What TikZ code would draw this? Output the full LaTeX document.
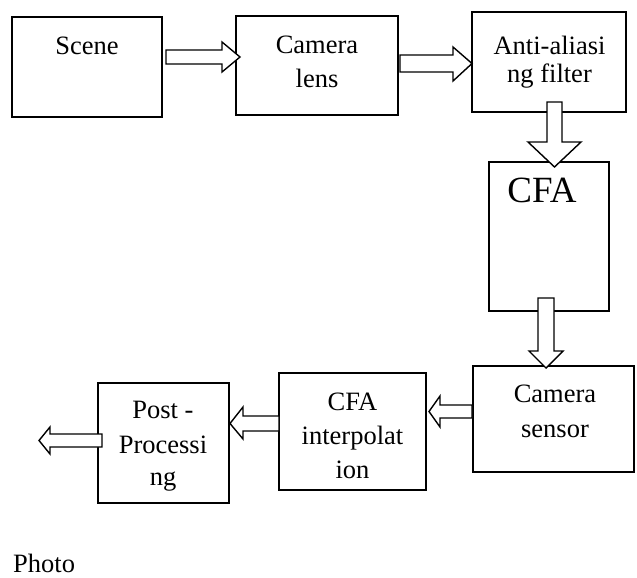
\documentclass[tikz,border=0pt]{standalone}
\usepackage{fontspec}
\setmainfont{Liberation Serif}
\begin{document}
\begin{tikzpicture}[x=1pt,y=-1pt,
  box/.style={draw, line width=1.8pt, inner sep=0pt},
  blk/.style={draw, line width=1.4pt, fill=white, line join=miter},
  lbl/.style={anchor=base, inner sep=0pt, font=\fontsize{26.5}{30}\selectfont},
  big/.style={anchor=base, inner sep=0pt, font=\fontsize{37}{42}\selectfont}]
\useasboundingbox (0,0) rectangle (637,578);
% boxes
\node[box, minimum width=150pt, minimum height=100pt] (scene) at (87,67) {};
\node[box, minimum width=162pt, minimum height=99pt] (lens) at (317,65.5) {};
\node[box, minimum width=154pt, minimum height=100pt] (aa) at (549,62) {};
\node[box, minimum width=120pt, minimum height=149pt] (cfa) at (549,236.5) {};
\node[box, minimum width=161pt, minimum height=106pt] (sensor) at (553.5,419) {};
\node[box, minimum width=147pt, minimum height=117pt] (interp) at (352.5,431.5) {};
\node[box, minimum width=131pt, minimum height=120pt] (post) at (163.5,443) {};
% texts
\node[lbl] (tscene) at (87,55) {Scene};
\node[lbl] (tlens1) at (317,53) {Camera};
\node[lbl] (tlens2) at (317,88) {lens};
\node[lbl] (taa1) at (549.5,55) {Anti-aliasi};
\node[lbl] (taa2) at (549.5,82) {ng filter};
\node[big] (tcfa) at (542,202) {CFA};
\node[lbl] (tsen1) at (555,402) {Camera};
\node[lbl] (tsen2) at (555,437) {sensor};
\node[lbl] (tint1) at (352.5,410) {CFA};
\node[lbl] (tint2) at (352.5,444) {interpolat};
\node[lbl] (tint3) at (352.5,478) {ion};
\node[lbl] (tpost1) at (163,418) {Post -};
\node[lbl] (tpost2) at (163,453) {Processi};
\node[lbl] (tpost3) at (163,485) {ng};
\node[lbl, anchor=base west] (tphoto) at (13,572) {Photo};
% block arrows
% scene -> lens
\draw[blk] (166,50) -- (222,50) -- (222,42) -- (240,57) -- (222,72) -- (222,64) -- (166,64) -- cycle;
% lens -> aa
\draw[blk] (400,55) -- (453,55) -- (453,47) -- (472,63.5) -- (453,81) -- (453,72) -- (400,72) -- cycle;
% aa -> cfa
\draw[blk] (547,102) -- (547,142) -- (528,142) -- (554.5,167) -- (581,142) -- (562,142) -- (562,102) -- cycle;
% cfa -> sensor
\draw[blk] (538,298) -- (538,351) -- (529,351) -- (546,368) -- (563,351) -- (554,351) -- (554,298) -- cycle;
% sensor -> interp
\draw[blk] (472,405) -- (440,405) -- (440,396) -- (429,411.5) -- (440,427) -- (440,418) -- (472,418) -- cycle;
% interp -> post
\draw[blk] (279,416) -- (243,416) -- (243,407) -- (230,423.5) -- (243,439) -- (243,431) -- (279,431) -- cycle;
% post -> out
\draw[blk] (102,434) -- (50,434) -- (50,427) -- (39,440.5) -- (50,454) -- (50,447) -- (102,447) -- cycle;
\end{tikzpicture}
\end{document}
